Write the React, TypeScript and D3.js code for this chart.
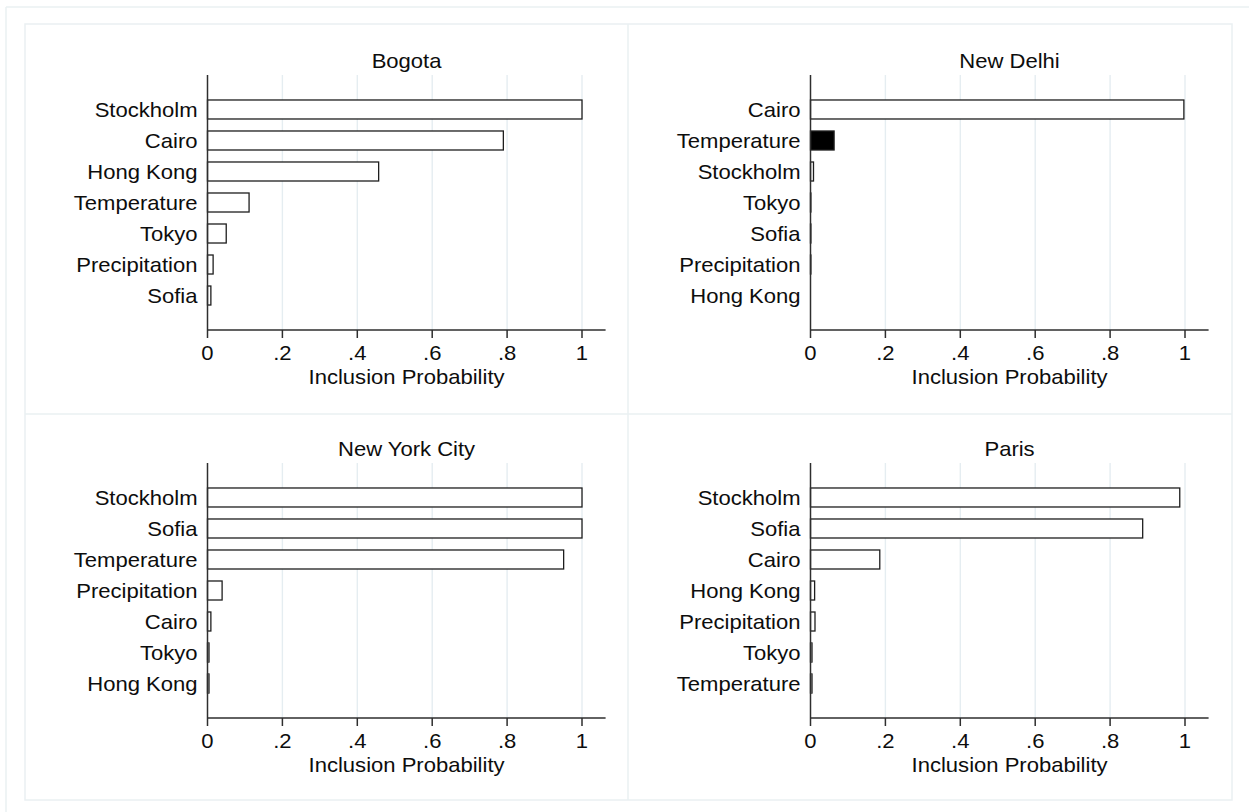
import React from 'react';
import * as d3 from 'd3';

// Inclusion probabilities per city, sorted as in the original figure
const bogotaVars = ['Stockholm', 'Cairo', 'Hong Kong', 'Temperature', 'Tokyo', 'Precipitation', 'Sofia'];
const bogotaProb = [1.0, 0.79, 0.457, 0.111, 0.05, 0.015, 0.009];

const delhiVars = ['Cairo', 'Temperature', 'Stockholm', 'Tokyo', 'Sofia', 'Precipitation', 'Hong Kong'];
const delhiProb = [0.997, 0.063, 0.008, 0.001, 0.001, 0.001, 0.0];

const nycVars = ['Stockholm', 'Sofia', 'Temperature', 'Precipitation', 'Cairo', 'Tokyo', 'Hong Kong'];
const nycProb = [1.0, 1.0, 0.951, 0.039, 0.009, 0.004, 0.004];

const parisVars = ['Stockholm', 'Sofia', 'Cairo', 'Hong Kong', 'Precipitation', 'Tokyo', 'Temperature'];
const parisProb = [0.986, 0.887, 0.185, 0.011, 0.012, 0.004, 0.004];

// bars drawn solid (negative sign in original)
const delhiSolid = ['Temperature'];

const xTicks = [0, 0.2, 0.4, 0.6, 0.8, 1];
const xTitle = 'Inclusion Probability';

const panels = [
  { title: 'Bogota', vars: bogotaVars, prob: bogotaProb, solid: [] as string[] },
  { title: 'New Delhi', vars: delhiVars, prob: delhiProb, solid: delhiSolid },
  { title: 'New York City', vars: nycVars, prob: nycProb, solid: [] as string[] },
  { title: 'Paris', vars: parisVars, prob: parisProb, solid: [] as string[] },
];

const W = 1249;
const H = 812;
const FONT = '"Liberation Sans", Arial, Helvetica, sans-serif';
const GRID = '#e5edf1';
const FRAME = '#eaf0f2';
const INK = '#0d0d0d';
const SX = 1.05; // original text looks slightly stretched

const fmtTick = (d: number) => (d === 0 ? '0' : d === 1 ? '1' : d3.format('.1f')(d).replace(/^0/, ''));

const Txt = ({ x, y, anchor, children, size = 21 }: any) => (
  <text
    transform={`translate(${x},${y}) scale(${SX},1)`}
    textAnchor={anchor}
    fontFamily={FONT}
    fontSize={size}
    fill={INK}
  >
    {children}
  </text>
);

const Panel = ({ p, left, top }: any) => {
  const x0 = left + 182.5;
  const x = d3.scaleLinear().domain([0, 1]).range([x0, x0 + 374.5]);
  const xEnd = x(1.063);
  const yTop = top + 49;
  const yBot = top + 304;
  const y = d3.scaleBand<string>().domain(p.vars).range([yTop, yBot]).paddingInner(0.387).paddingOuter(0.806);
  const mid = (x0 + xEnd) / 2;

  return (
    <g>
      <Txt x={mid} y={top + 42} anchor="middle">{p.title}</Txt>
      {xTicks.filter((t) => t > 0).map((t) => (
        <line key={'g' + t} x1={x(t)} x2={x(t)} y1={yTop} y2={yBot} stroke={GRID} strokeWidth={1.4} />
      ))}
      {p.vars.map((v: string, i: number) => {
        const solid = p.solid.includes(v);
        const w = Math.max(0, x(p.prob[i]) - x0);
        return (
          <g key={v}>
            <rect
              x={x0}
              y={y(v)}
              width={w}
              height={y.bandwidth()}
              fill={solid ? '#000' : '#fff'}
              stroke="#1e1e1e"
              strokeWidth={1.3}
            />
            <Txt x={x0 - 10} y={(y(v) as number) + y.bandwidth() / 2 + 7.5} anchor="end">{v}</Txt>
          </g>
        );
      })}
      <line x1={x0} x2={x0} y1={yTop} y2={yBot} stroke="#2e2e2e" strokeWidth={1.5} />
      <line x1={x0} x2={xEnd} y1={yBot} y2={yBot} stroke="#2e2e2e" strokeWidth={1.5} />
      {xTicks.map((t) => (
        <g key={'t' + t}>
          <line x1={x(t)} x2={x(t)} y1={yBot} y2={yBot + 8} stroke="#2e2e2e" strokeWidth={1.5} />
          <Txt x={x(t)} y={yBot + 30} anchor="middle">{fmtTick(t)}</Txt>
        </g>
      ))}
      <Txt x={mid} y={yBot + 54} anchor="middle">{xTitle}</Txt>
    </g>
  );
};

export default function App() {
  const cols = [25, 628];
  const rows = [26, 414];
  return (
    <svg
      width={W}
      height={H}
      style={{ position: 'absolute', left: 0, top: 0, background: '#fff' }}
    >
      <rect x={0} y={0} width={W} height={H} fill="#fff" />
      <line x1={6} x2={W} y1={7} y2={7} stroke={FRAME} strokeWidth={1.5} />
      <line x1={6} x2={6} y1={7} y2={H} stroke={FRAME} strokeWidth={1.5} />
      <rect x={25} y={24} width={1207} height={776} fill="none" stroke={FRAME} strokeWidth={1.5} />
      <line x1={628} x2={628} y1={24} y2={800} stroke={FRAME} strokeWidth={1.5} />
      <line x1={25} x2={1232} y1={414} y2={414} stroke={FRAME} strokeWidth={1.5} />
      {panels.map((p, i) => (
        <Panel key={p.title} p={p} left={cols[i % 2]} top={rows[Math.floor(i / 2)]} />
      ))}
    </svg>
  );
}
